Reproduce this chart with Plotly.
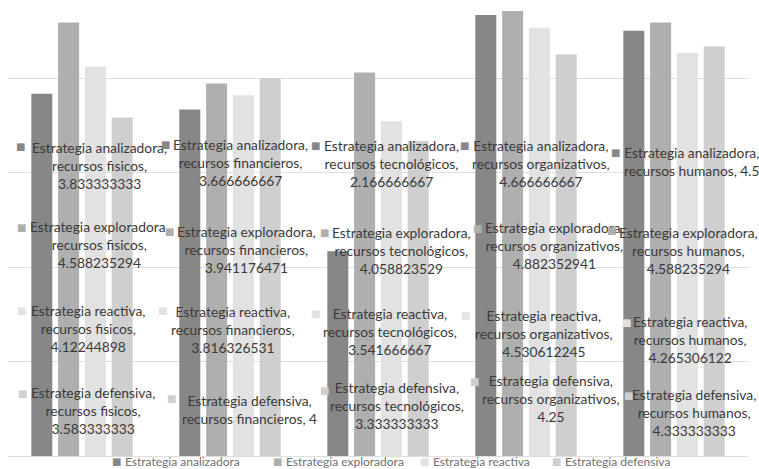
import plotly.graph_objects as go

categories = ["recursos fisicos", "recursos financieros", "recursos tecnológicos",
              "recursos organizativos", "recursos humanos"]
series_names = ["Estrategia analizadora", "Estrategia exploradora",
                "Estrategia reactiva", "Estrategia defensiva"]
analizadora = [3.833333333, 3.666666667, 2.166666667, 4.666666667, 4.5]
exploradora = [4.588235294, 3.941176471, 4.058823529, 4.882352941, 4.588235294]
reactiva = [4.12244898, 3.816326531, 3.541666667, 4.530612245, 4.265306122]
defensiva = [3.583333333, 4.0, 3.333333333, 4.25, 4.333333333]
series_values = [analizadora, exploradora, reactiva, defensiva]

colors = ["#878787", "#afafaf", "#e2e2e2", "#cfcfcf"]

W, H = 759, 469
ML, MR, MT, MB = 8, 11, 11, 13
PW, PH = W - ML - MR, H - MT - MB
Y_MAX = PH / 94.5

# label layout (pixel positions): key (x, y), text centre x, first line y
label_key = [
    [(20, 147), (165, 144), (315, 145), (464, 145), (615, 153)],
    [(21, 227), (169, 231), (324, 233), (478, 228), (611, 230)],
    [(21, 310), (162, 310), (315, 313), (465, 315), (626, 322)],
    [(22, 393), (171, 398), (324, 390), (474, 381), (628, 395)],
]
label_cx = [
    [99, 240, 391, 541, 692],
    [99, 246, 401, 554, 688],
    [88, 233, 390, 544, 690],
    [93, 249, 397, 551, 694],
]
label_y1 = [
    [148, 145, 146, 146, 153],
    [227, 232, 233, 228, 233],
    [311, 312, 314, 316, 322],
    [393, 401, 388, 381, 395],
]
# two-line labels (value joined to category line)
two_line = {(0, 4), (3, 1)}

FS = 13.8
LINE = FS * 1.3

def px_x(x):
    return (x - ML) / PW

def px_y(y):
    return (H - MB - y) / PH

fig = go.Figure()
for name, vals, col in zip(series_names, series_values, colors):
    fig.add_trace(go.Bar(x=categories, y=vals, name=name, marker_color=col,
                         marker_line_width=0, showlegend=False))

annotations = []
for s, (name, vals, col) in enumerate(zip(series_names, series_values, colors)):
    for c, (cat, v) in enumerate(zip(categories, vals)):
        vtxt = "{:.10g}".format(v)
        if (s, c) in two_line:
            lines = [name + ",", cat + ", " + vtxt]
        else:
            lines = [name + ",", cat + ",", vtxt]
        n = len(lines)
        yc = label_y1[s][c] + (n - 1) * LINE / 2
        annotations.append(dict(
            x=px_x(label_cx[s][c]), y=px_y(yc), xref="paper", yref="paper",
            text="<br>".join(lines), showarrow=False, align="center",
            xanchor="center", yanchor="middle",
            font=dict(family="Lato", size=FS, color="#3a3a3a")))
        kx, ky = label_key[s][c]
        annotations.append(dict(
            x=px_x(kx), y=px_y(ky), xref="paper", yref="paper",
            text="■", showarrow=False, xanchor="center", yanchor="middle",
            font=dict(family="DejaVu Sans", size=10, color=col)))

# legend drawn as text items
legend_x = [112, 273, 420, 552]
legend_y = 462
for name, col, lx in zip(series_names, colors, legend_x):
    annotations.append(dict(
        x=px_x(lx + 4), y=px_y(legend_y), xref="paper", yref="paper",
        text="■", showarrow=False, xanchor="center", yanchor="middle",
        font=dict(family="DejaVu Sans", size=10, color=col)))
    annotations.append(dict(
        x=px_x(lx + 11), y=px_y(legend_y), xref="paper", yref="paper",
        text=name, showarrow=False, xanchor="left", yanchor="middle",
        font=dict(family="Lato", size=12, color="#707070")))

fig.update_layout(
    width=W, height=H,
    margin=dict(l=ML, r=MR, t=MT, b=MB, pad=0),
    paper_bgcolor="white", plot_bgcolor="white",
    barmode="group", bargap=0.276, bargroupgap=0.216,
    showlegend=False,
    annotations=annotations,
    xaxis=dict(showticklabels=False, showgrid=False, zeroline=False,
               showline=False, ticks=""),
    yaxis=dict(range=[0, Y_MAX], dtick=1, showticklabels=False,
               showgrid=True, gridcolor="#dedede", gridwidth=1,
               zeroline=True, zerolinecolor="#dedede", zerolinewidth=1,
               showline=False, ticks=""),
)

fig.write_html("out.html")
